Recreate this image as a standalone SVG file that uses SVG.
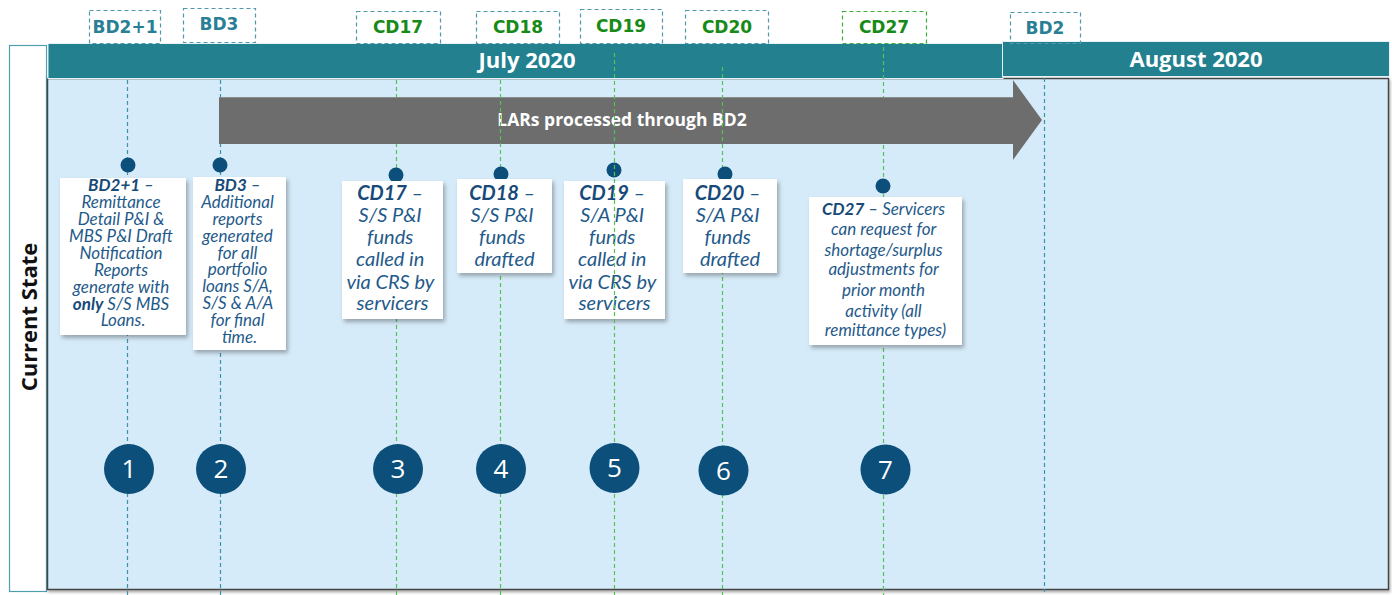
<svg xmlns="http://www.w3.org/2000/svg" width="1392" height="595" viewBox="0 0 1392 595">
  <style>
    .tag { fill: none; stroke-width: 1.2; stroke-dasharray: 4 3; }
    .tag-bd { stroke: #4f98ad; }
    .tag-cd { stroke: #4f98ad; }
    .tag-cd27 { stroke: #3fae3f; }
    .tagtxt { font-family: "DejaVu Sans", Verdana, sans-serif; font-weight: bold; font-size: 17px; text-anchor: middle; }
    .bdtxt { fill: #2a7f96; }
    .cdtxt { fill: #178a17; }
    .guide { stroke-width: 1.2; stroke-dasharray: 4 3; fill: none; }
    .guide-bd { stroke: #3a92ad; }
    .guide-cd { stroke: #55c255; }
    .month { font-family: "Open Sans", "Noto Sans", sans-serif; font-weight: bold; font-size: 22px; fill: #ffffff; text-anchor: middle; }
    .card { fill: #ffffff; filter: url(#shadow); }
    .note { font-family: Lato, "Noto Sans", sans-serif; font-style: italic; fill: #1f5a8a; text-anchor: middle; }
    .small { font-size: 17px; }
    .large { font-size: 20px; }
    .note .b { font-weight: bold; fill: #174a78; }
    .dot { fill: #0b4f7a; }
    .num { fill: #0b4f7a; }
    .numtxt { font-family: "Open Sans", "Noto Sans", sans-serif; font-size: 26px; fill: #ffffff; text-anchor: middle; }
  </style>
  <defs>
    <filter id="shadow" x="-10%" y="-10%" width="130%" height="130%">
      <feDropShadow dx="2" dy="3" stdDeviation="2" flood-color="#000000" flood-opacity="0.3"/>
    </filter>
    <filter id="panelshadow" x="-2%" y="-2%" width="104%" height="104%">
      <feDropShadow dx="1" dy="2" stdDeviation="1.5" flood-color="#000000" flood-opacity="0.35"/>
    </filter>
  </defs>

  <rect width="1392" height="595" fill="#ffffff"/>

  <!-- swimlane label -->
  <g id="lane-label">
    <rect x="9.5" y="45.5" width="37" height="546" fill="#ffffff" stroke="#4f9fb0" stroke-width="1.2"/>
    <text x="28" y="317" transform="rotate(-90 28 317)" font-family="Open Sans, Noto Sans, sans-serif" font-weight="bold" font-size="22" fill="#111111" text-anchor="middle" dominant-baseline="central">Current State</text>
  </g>

  <!-- lane body -->
  <g id="lane-body">
    <rect x="47.5" y="78.5" width="1341" height="511" fill="#d6ebf9" stroke="#444444" stroke-width="1.5" filter="url(#panelshadow)"/>
  </g>

  <!-- month banners -->
  <g id="month-july">
    <rect x="48" y="43.5" width="955" height="35" fill="#22808f" stroke="#e6f2f5" stroke-width="1"/>
    <text class="month" x="527" y="68">July 2020</text>
  </g>
  <g id="month-august">
    <rect x="1002.5" y="41.5" width="387" height="35" fill="#22808f" stroke="#e6f2f5" stroke-width="1"/>
    <text class="month" x="1196" y="67">August 2020</text>
  </g>

  <!-- day tags -->
  <g id="tag-bd2p1">
    <rect class="tag tag-bd" x="89.5" y="10.5" width="71" height="33"/>
    <text class="tagtxt bdtxt" x="125" y="33">BD2+1</text>
  </g>
  <g id="tag-bd3">
    <rect class="tag tag-bd" x="183.5" y="8.5" width="72" height="34"/>
    <text class="tagtxt bdtxt" x="219" y="30">BD3</text>
  </g>
  <g id="tag-cd17">
    <rect class="tag tag-cd" x="356.5" y="11.5" width="84" height="32"/>
    <text class="tagtxt cdtxt" x="398" y="33">CD17</text>
  </g>
  <g id="tag-cd18">
    <rect class="tag tag-cd" x="476.5" y="11.5" width="83" height="32"/>
    <text class="tagtxt cdtxt" x="518" y="33">CD18</text>
  </g>
  <g id="tag-cd19">
    <rect class="tag tag-cd" x="580.5" y="9.5" width="82" height="34"/>
    <text class="tagtxt cdtxt" x="621" y="32">CD19</text>
  </g>
  <g id="tag-cd20">
    <rect class="tag tag-cd" x="685.5" y="10.5" width="83" height="33"/>
    <text class="tagtxt cdtxt" x="727" y="33">CD20</text>
  </g>
  <g id="tag-cd27">
    <rect class="tag tag-cd27" x="842.5" y="11.5" width="84" height="32"/>
    <text class="tagtxt cdtxt" x="884" y="33">CD27</text>
  </g>
  <g id="tag-bd2">
    <rect class="tag tag-bd" x="1010.5" y="12.5" width="70" height="31"/>
    <text class="tagtxt bdtxt" x="1045" y="34">BD2</text>
  </g>

  <!-- day guides drawn beneath the process arrow -->
  <g id="guides-under">
    <line class="guide guide-bd" x1="127.5" y1="80" x2="127.5" y2="595"/>
    <line class="guide guide-bd" x1="220.5" y1="80" x2="220.5" y2="595"/>
    <line class="guide guide-cd" x1="396.5" y1="80" x2="396.5" y2="595"/>
    <line class="guide guide-cd" x1="883.5" y1="47" x2="883.5" y2="595"/>
    <line class="guide guide-bd" x1="1044.5" y1="78" x2="1044.5" y2="592"/>
  </g>

  <!-- process arrow -->
  <g id="process-arrow">
    <polygon points="219,97 1013,97 1013,80 1042,120 1013,160 1013,144 219,144" fill="#6d6d6d"/>
    <line x1="219" y1="97.5" x2="1013" y2="97.5" stroke="#8c8c8c" stroke-width="1"/>
    <text x="622" y="126" font-family="Open Sans, Noto Sans, sans-serif" font-weight="bold" font-size="17.5" fill="#ffffff" text-anchor="middle">LARs processed through BD2</text>
  </g>

  <!-- day guides drawn over the process arrow -->
  <g id="guides-over">
    <line class="guide guide-cd" x1="500.5" y1="80" x2="500.5" y2="595"/>
    <line class="guide guide-cd" x1="722.5" y1="67" x2="722.5" y2="595"/>
  </g>

  <!-- event notes -->
  <g id="note-bd2p1">
    <circle class="dot" cx="128" cy="165" r="7.5"/>
    <rect class="card" x="60" y="178" width="126" height="157"/>
    <text class="note small">
      <tspan x="123" y="191"><tspan class="b">BD2+1</tspan> –</tspan>
      <tspan x="123" y="208">Remittance</tspan>
      <tspan x="123" y="225">Detail P&amp;I &amp;</tspan>
      <tspan x="123" y="242">MBS P&amp;I Draft</tspan>
      <tspan x="123" y="259">Notification</tspan>
      <tspan x="123" y="276">Reports</tspan>
      <tspan x="123" y="293">generate with</tspan>
      <tspan x="123" y="310"><tspan class="b">only</tspan> S/S MBS</tspan>
      <tspan x="123" y="326">Loans.</tspan>
    </text>
  </g>
  <g id="note-bd3">
    <circle class="dot" cx="220" cy="165" r="7.5"/>
    <rect class="card" x="193" y="177" width="93" height="173"/>
    <text class="note small">
      <tspan x="239.5" y="191"><tspan class="b">BD3</tspan> –</tspan>
      <tspan x="239.5" y="208">Additional</tspan>
      <tspan x="239.5" y="225">reports</tspan>
      <tspan x="239.5" y="242">generated</tspan>
      <tspan x="239.5" y="259">for all</tspan>
      <tspan x="239.5" y="275">portfolio</tspan>
      <tspan x="239.5" y="292">loans S/A,</tspan>
      <tspan x="239.5" y="309">S/S &amp; A/A</tspan>
      <tspan x="239.5" y="326">for final</tspan>
      <tspan x="239.5" y="343">time.</tspan>
    </text>
  </g>
  <g id="note-cd17">
    <circle class="dot" cx="396" cy="175" r="7.5"/>
    <rect class="card" x="342" y="181" width="101" height="138"/>
    <text class="note large">
      <tspan x="392.5" y="200"><tspan class="b">CD17</tspan> –</tspan>
      <tspan x="392.5" y="222">S/S P&amp;I</tspan>
      <tspan x="392.5" y="244">funds</tspan>
      <tspan x="392.5" y="266">called in</tspan>
      <tspan x="392.5" y="289">via CRS by</tspan>
      <tspan x="392.5" y="310">servicers</tspan>
    </text>
  </g>
  <g id="note-cd18">
    <circle class="dot" cx="501" cy="174" r="7.5"/>
    <rect class="card" x="457" y="179" width="95" height="94"/>
    <text class="note large">
      <tspan x="504.5" y="200"><tspan class="b">CD18</tspan> –</tspan>
      <tspan x="504.5" y="222">S/S P&amp;I</tspan>
      <tspan x="504.5" y="244">funds</tspan>
      <tspan x="504.5" y="266">drafted</tspan>
    </text>
  </g>
  <g id="note-cd19">
    <circle class="dot" cx="614" cy="170" r="7.5"/>
    <rect class="card" x="564" y="181" width="101" height="138"/>
    <text class="note large">
      <tspan x="614.5" y="200"><tspan class="b">CD19</tspan> –</tspan>
      <tspan x="614.5" y="222">S/A P&amp;I</tspan>
      <tspan x="614.5" y="244">funds</tspan>
      <tspan x="614.5" y="266">called in</tspan>
      <tspan x="614.5" y="289">via CRS by</tspan>
      <tspan x="614.5" y="310">servicers</tspan>
    </text>
  </g>
  <g id="note-cd20">
    <circle class="dot" cx="725" cy="174" r="7.5"/>
    <rect class="card" x="683" y="179" width="94" height="94"/>
    <text class="note large">
      <tspan x="730" y="200"><tspan class="b">CD20</tspan> –</tspan>
      <tspan x="730" y="222">S/A P&amp;I</tspan>
      <tspan x="730" y="244">funds</tspan>
      <tspan x="730" y="266">drafted</tspan>
    </text>
  </g>
  <g id="note-cd27">
    <circle class="dot" cx="883" cy="186" r="7.5"/>
    <rect class="card" x="809" y="197" width="153" height="148"/>
    <text class="note small">
      <tspan x="885.5" y="215"><tspan class="b">CD27</tspan> – Servicers</tspan>
      <tspan x="885.5" y="235">can request for</tspan>
      <tspan x="885.5" y="256">shortage/surplus</tspan>
      <tspan x="885.5" y="275">adjustments for</tspan>
      <tspan x="885.5" y="296">prior month</tspan>
      <tspan x="885.5" y="317">activity (all</tspan>
      <tspan x="885.5" y="336">remittance types)</tspan>
    </text>
  </g>

  <!-- CD19 guide runs across its note -->
  <g id="guide-cd19">
    <line class="guide guide-cd" x1="614.5" y1="53" x2="614.5" y2="595"/>
  </g>

  <!-- step markers -->
  <g id="step-1"><circle class="num" cx="129" cy="469" r="25"/><text class="numtxt" x="129" y="478">1</text></g>
  <g id="step-2"><circle class="num" cx="221" cy="469" r="25"/><text class="numtxt" x="221" y="478">2</text></g>
  <g id="step-3"><circle class="num" cx="398" cy="469" r="25"/><text class="numtxt" x="398" y="478">3</text></g>
  <g id="step-4"><circle class="num" cx="501" cy="469" r="25"/><text class="numtxt" x="501" y="478">4</text></g>
  <g id="step-5"><circle class="num" cx="614.5" cy="468" r="25"/><text class="numtxt" x="614.5" y="477">5</text></g>
  <g id="step-6"><circle class="num" cx="723.5" cy="470.5" r="25"/><text class="numtxt" x="723.5" y="479.5">6</text></g>
  <g id="step-7"><circle class="num" cx="885.5" cy="469.5" r="25"/><text class="numtxt" x="885.5" y="478.5">7</text></g>
</svg>
